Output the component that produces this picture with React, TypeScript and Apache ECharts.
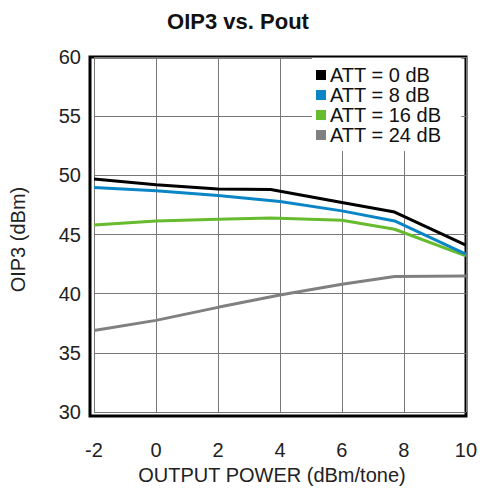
import React, { useEffect, useRef } from "react";
import * as echarts from "echarts";

const seriesNames = ["ATT = 0 dB", "ATT = 8 dB", "ATT = 16 dB", "ATT = 24 dB"];
const seriesColors = ["#000000", "#0a86c6", "#66bb2e", "#808080"];

const att0: [number, number][] = [[-2, 49.7], [0, 49.2], [2, 48.85], [3.7, 48.8], [6, 47.7], [7.7, 46.9], [10, 44.1]];
const att8: [number, number][] = [[-2, 48.97], [0, 48.7], [2, 48.3], [4, 47.8], [6, 47.0], [7.7, 46.15], [10, 43.35]];
const att16: [number, number][] = [[-2, 45.8], [0, 46.15], [2, 46.3], [3.7, 46.4], [6, 46.2], [7.7, 45.45], [10, 43.2]];
const att24: [number, number][] = [[-2, 36.9], [0, 37.75], [2, 38.85], [4, 39.9], [6, 40.8], [7.7, 41.45], [10, 41.5]];

const seriesData = [att0, att8, att16, att24];

const xTicks = { min: -2, max: 10, interval: 2 };
const yTicks = { min: 30, max: 60, interval: 5 };

const FONT = "Liberation Sans, Arial, sans-serif";

export default function App() {
  const ref = useRef<HTMLDivElement>(null);
  useEffect(() => {
    document.body.style.margin = "0";
    if (!ref.current) return;
    const chart = echarts.init(ref.current, null, { renderer: "svg" });
    chart.setOption({
      animation: false,
      backgroundColor: "#ffffff",
      title: {
        text: "OIP3 vs. Pout",
        left: 233,
        textAlign: "center",
        top: 5,
        textStyle: { fontFamily: FONT, fontSize: 22, fontWeight: "bold", color: "#111" },
      },
      grid: { left: 90, right: 14, top: 57, bottom: 74, containLabel: false },
      legend: {
        orient: "vertical",
        left: 312,
        top: 58,
        padding: [7, 20, 6, 4],
        itemGap: 0,
        itemWidth: 10,
        itemHeight: 10,
        icon: "rect",
        backgroundColor: "#ffffff",
        data: seriesNames,
        textStyle: { fontFamily: FONT, fontSize: 20, color: "#111", lineHeight: 19, padding: [0, 0, 0, -1] },
      },
      xAxis: {
        type: "value",
        min: xTicks.min,
        max: xTicks.max,
        interval: xTicks.interval,
        name: "OUTPUT POWER (dBm/tone)",
        nameLocation: "middle",
        nameGap: 52,
        nameTextStyle: { fontFamily: FONT, fontSize: 20, color: "#222", padding: [0, 16, 0, 0] },
        axisLine: { show: false },
        axisTick: { show: false },
        axisLabel: { fontFamily: FONT, fontSize: 20, color: "#222", margin: 28 },
        splitLine: { show: true, lineStyle: { color: "#777", width: 1 } },
      },
      yAxis: {
        type: "value",
        min: yTicks.min,
        max: yTicks.max,
        interval: yTicks.interval,
        name: "OIP3 (dBm)",
        nameLocation: "middle",
        nameGap: 66,
        nameTextStyle: { fontFamily: FONT, fontSize: 20, color: "#222", padding: [0, 10, 0, 0] },
        axisLine: { show: false },
        axisTick: { show: false },
        axisLabel: { fontFamily: FONT, fontSize: 20, color: "#222", margin: 13 },
        splitLine: { show: true, lineStyle: { color: "#777", width: 1 } },
      },
      graphic: [
        {
          type: "rect",
          z: 0,
          zlevel: 0,
          silent: true,
          shape: { x: 90, y: 57, width: 376, height: 359 },
          style: { fill: "none", stroke: "#000", lineWidth: 3 },
        },
      ],
      series: seriesData.map((d, i) => ({
        name: seriesNames[i],
        type: "line",
        data: d,
        symbol: "none",
        z: 3 + (3 - i),
        lineStyle: { color: seriesColors[i], width: 3 },
        itemStyle: { color: seriesColors[i] },
      })),
    });
    return () => chart.dispose();
  }, []);
  return <div ref={ref} style={{ width: 480, height: 490 }} />;
}
